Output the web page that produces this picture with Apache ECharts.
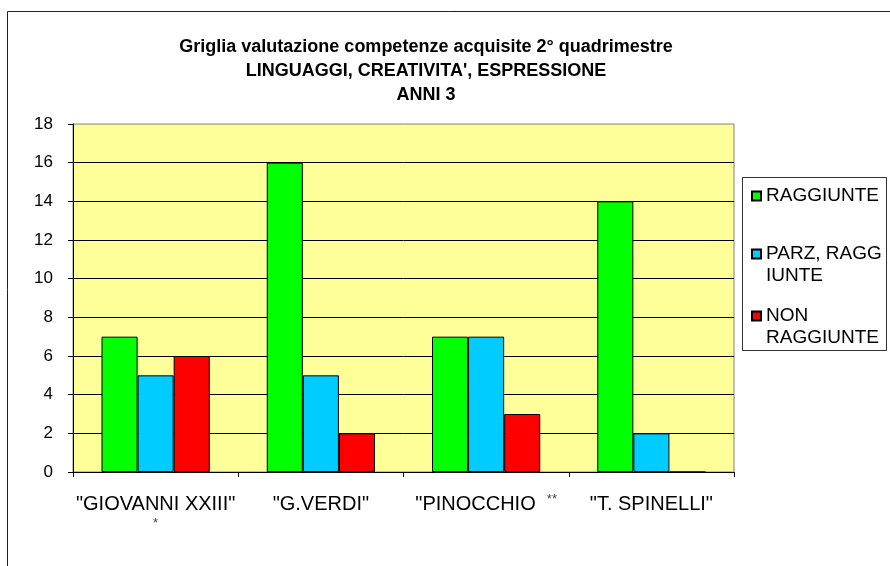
<!DOCTYPE html>
<html>
<head>
<meta charset="utf-8">
<script src="https://cdn.jsdelivr.net/npm/echarts@6/dist/echarts.min.js"></script>
<style>
  html, body { margin: 0; padding: 0; background: #fff; }
  #chart { width: 890px; height: 566px; }
</style>
</head>
<body>
<div id="chart"></div>
<script>
// dati
const categories = ['"GIOVANNI XXIII"', '"G.VERDI"', '"PINOCCHIO', '"T. SPINELLI"'];
const categoryNotes = ['*', '', '**', ''];
const raggiunte = [7, 16, 7, 14];
const parzRaggiunte = [5, 5, 7, 2];
const nonRaggiunte = [6, 2, 3, 0];
const seriesNames = ['RAGGIUNTE', 'PARZ, RAGGIUNTE', 'NON RAGGIUNTE'];
const legendLabels = ['RAGGIUNTE', 'PARZ, RAGG\nIUNTE', 'NON\nRAGGIUNTE'];
const yMin = 0;
const yMax = 18;
const yStep = 2;

const font = 'Liberation Sans, Arial, sans-serif';
const colors = ['#00FF00', '#00CCFF', '#FF0000'];
const seriesData = [raggiunte, parzRaggiunte, nonRaggiunte];

// una legenda per voce; una riga vuota davanti tiene l'icona sulla prima riga del testo
const legendTops = [185, 221, 283];
const legends = seriesNames.map((name, i) => {
  const label = legendLabels[i];
  const multi = label.indexOf('\n') >= 0;
  return {
    data: [name],
    orient: 'vertical',
    left: 751,
    top: legendTops[i],
    padding: 0,
    icon: 'rect',
    itemWidth: 9,
    itemHeight: 9,
    selectedMode: false,
    formatter: () => (multi ? ' \n' + label : label),
    textStyle: {
      fontFamily: font,
      fontSize: 19,
      color: '#000',
      lineHeight: 22
    }
  };
});

const option = {
  backgroundColor: '#fff',
  animation: false,
  title: {
    text: 'Griglia valutazione competenze acquisite 2° quadrimestre\nLINGUAGGI, CREATIVITA\', ESPRESSIONE\nANNI 3',
    left: 421,
    top: 30,
    textAlign: 'center',
    textStyle: {
      fontFamily: font,
      fontSize: 18,
      fontWeight: 'bold',
      lineHeight: 24,
      color: '#000'
    }
  },
  legend: legends,
  grid: {
    left: 73,
    right: 156,
    top: 124,
    bottom: 94,
    show: true,
    backgroundColor: '#FFFF99',
    borderColor: '#808080',
    borderWidth: 1
  },
  xAxis: {
    type: 'category',
    data: categories,
    axisLine: { lineStyle: { color: '#000' } },
    axisTick: { show: true, length: 5, lineStyle: { color: '#000' } },
    axisLabel: {
      interval: 0,
      margin: 21,
      formatter: (v, i) => {
        const note = categoryNotes[i];
        if (note === '*') return '{a|' + v + '}\n{n|' + note + '}';
        if (note) return '{a|' + v + '  }{s|' + note + '}';
        return '{a|' + v + '}';
      },
      rich: {
        a: { fontFamily: font, fontSize: 20, color: '#000', lineHeight: 22 },
        n: { fontFamily: font, fontSize: 13, color: '#444', lineHeight: 16 },
        s: { fontFamily: font, fontSize: 13, color: '#444', lineHeight: 22, verticalAlign: 'top' }
      }
    }
  },
  yAxis: {
    type: 'value',
    min: yMin,
    max: yMax,
    interval: yStep,
    axisLine: { show: true, lineStyle: { color: '#000' } },
    axisTick: { show: true, length: 5, lineStyle: { color: '#000' } },
    splitLine: { show: true, showMaxLine: false, lineStyle: { color: '#000' } },
    axisLabel: { fontFamily: font, fontSize: 17, color: '#000', margin: 20 }
  },
  series: seriesNames.map((name, i) => ({
    name: name,
    type: 'bar',
    data: seriesData[i],
    barGap: '0%',
    barCategoryGap: '34.5%',
    itemStyle: { color: colors[i], borderColor: '#000', borderWidth: 1 }
  })),
  graphic: [
    {
      type: 'rect',
      shape: { x: 7.5, y: 11.5, width: 900, height: 600 },
      style: { fill: 'none', stroke: '#222', lineWidth: 1 }
    },
    {
      type: 'rect',
      shape: { x: 742.5, y: 177.5, width: 144, height: 173 },
      style: { fill: 'none', stroke: '#333', lineWidth: 1 }
    }
  ]
};

const myChart = echarts.init(document.getElementById('chart'));
myChart.setOption(option);
</script>
</body>
</html>
